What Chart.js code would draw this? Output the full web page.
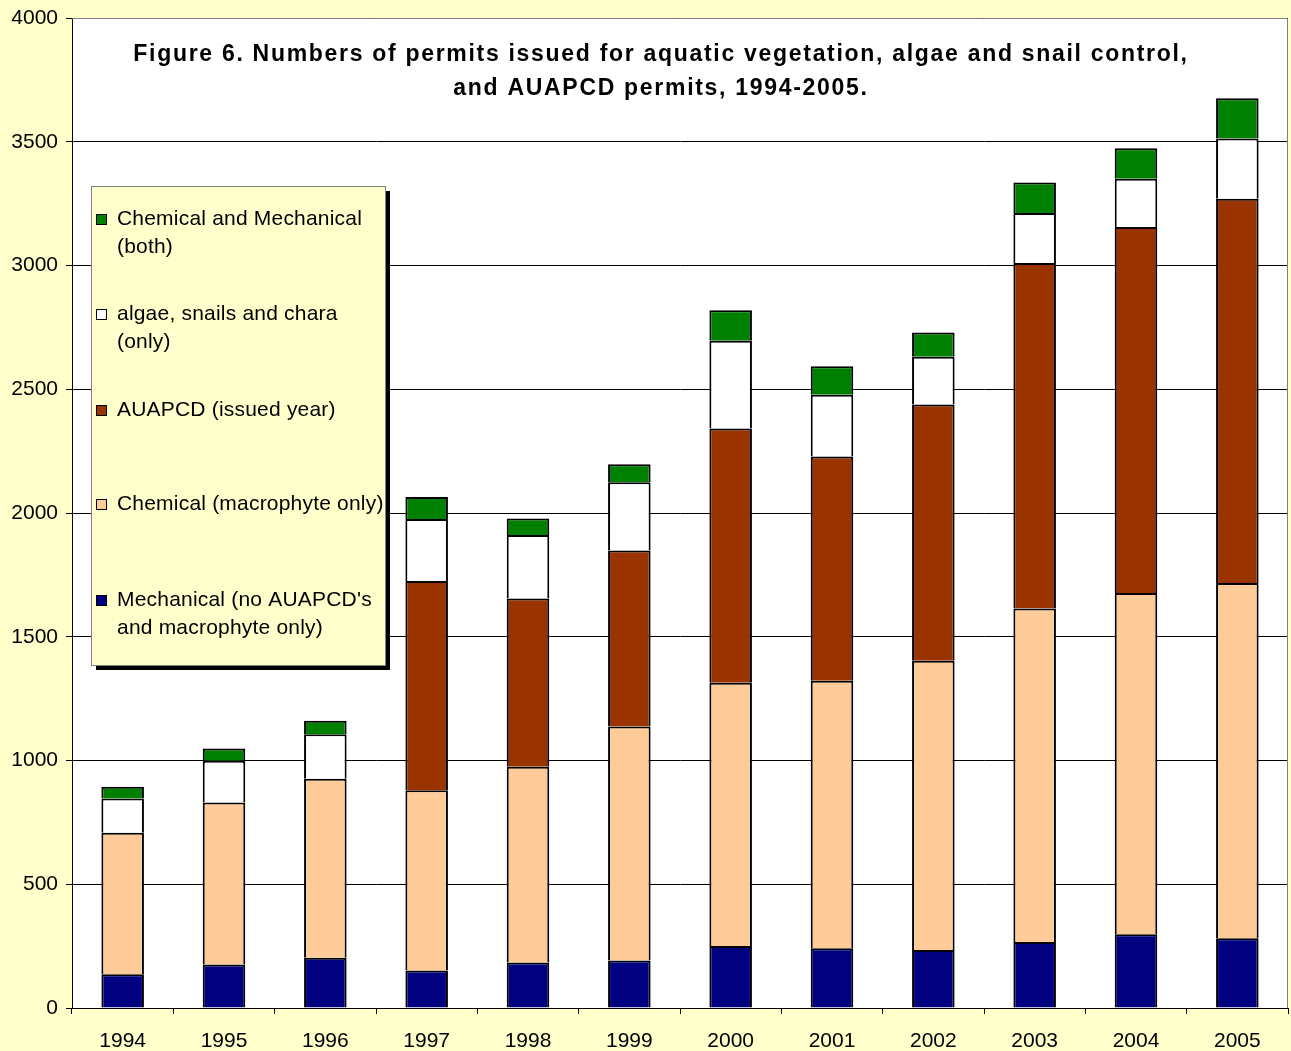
<!DOCTYPE html>
<html>
<head>
<meta charset="utf-8">
<script src="https://cdn.jsdelivr.net/npm/chart.js@4/dist/chart.umd.min.js"></script>
<style>
    html, body { margin: 0; padding: 0; background: #FFFFCC; }
    #wrap { width: 1291px; height: 1051px; }
</style>
</head>
<body>
<div id="wrap"><canvas id="permitChart"></canvas></div>
<script>
const years = ['1994', '1995', '1996', '1997', '1998', '1999', '2000', '2001', '2002', '2003', '2004', '2005'];
const mechanical = [136, 176, 203, 152, 184, 192, 251, 241, 234, 267, 298, 282];
const chemical = [572, 654, 723, 728, 791, 945, 1063, 1081, 1169, 1347, 1379, 1435];
const auapcd = [null, null, null, 845, 680, 711, 1027, 906, 1035, 1396, 1479, 1553];
const algae = [138, 169, 180, 251, 256, 276, 355, 250, 193, 202, 195, 243];
const both = [48, 49, 55, 89, 67, 73, 123, 115, 98, 123, 123, 163];

const yTicks = [0, 500, 1000, 1500, 2000, 2500, 3000, 3500, 4000];

const titleLines = [
    'Figure 6. Numbers of permits issued for aquatic vegetation, algae and snail control,',
    'and AUAPCD permits, 1994-2005.'
];

// legend rows, top to bottom (reverse of stacking order)
const legendRows = [
    { ds: 4, lines: ['Chemical and Mechanical', '(both)'], y: 219 },
    { ds: 3, lines: ['algae, snails and chara', '(only)'], y: 314 },
    { ds: 2, lines: ['AUAPCD (issued year)'], y: 410 },
    { ds: 1, lines: ['Chemical (macrophyte only)'], y: 504 },
    { ds: 0, lines: ["Mechanical (no AUAPCD's", 'and macrophyte only)'], y: 600 }
];

const FONT = '"Liberation Sans", Arial, sans-serif';

function makeSet(label, data, color) {
    return {
        label: label,
        data: data,
        backgroundColor: color,
        borderColor: '#000000',
        borderWidth: 2,
        borderSkipped: 'start',
        barPercentage: 0.42,
        categoryPercentage: 1.0
    };
}

// white plot area on the yellow page, plus the frame
const plotBackground = {
    id: 'plotBackground',
    beforeDraw(chart) {
        const { ctx, chartArea: a } = chart;
        ctx.save();
        ctx.fillStyle = '#FFFFCC';
        ctx.fillRect(0, 0, chart.width, chart.height);
        ctx.fillStyle = '#FFFFFF';
        ctx.fillRect(a.left, a.top, a.right - a.left, a.bottom - a.top);
        ctx.restore();
    },
    afterDraw(chart) {
        const { ctx, chartArea: a } = chart;
        ctx.save();
        ctx.strokeStyle = '#808080';
        ctx.lineWidth = 1;
        ctx.beginPath();
        ctx.moveTo(a.left, a.top + 0.5);
        ctx.lineTo(a.right - 0.5, a.top + 0.5);
        ctx.lineTo(a.right - 0.5, a.bottom);
        ctx.stroke();
        ctx.restore();
    }
};

const titleBlock = {
    id: 'titleBlock',
    afterDraw(chart) {
        const ctx = chart.ctx;
        ctx.save();
        ctx.fillStyle = '#000000';
        ctx.font = 'bold 23px ' + FONT;
        ctx.letterSpacing = '1.7px';
        ctx.textAlign = 'center';
        ctx.textBaseline = 'middle';
        ctx.fillText(titleLines[0], 661, 55);
        ctx.fillText(titleLines[1], 661, 89);
        ctx.restore();
    }
};

const boxLegend = {
    id: 'boxLegend',
    afterDraw(chart) {
        const ctx = chart.ctx;
        const x = 91, y = 186, w = 294, h = 479;
        ctx.save();
        // shadow
        ctx.fillStyle = '#000000';
        ctx.fillRect(x + 5, y + 5, w, h);
        ctx.fillStyle = '#FFFFCC';
        ctx.fillRect(x, y, w, h);
        ctx.strokeStyle = '#808080';
        ctx.lineWidth = 1;
        ctx.strokeRect(x + 0.5, y + 0.5, w, h);

        ctx.font = '21px ' + FONT;
        ctx.letterSpacing = '0.2px';
        ctx.textBaseline = 'middle';
        ctx.textAlign = 'left';
        legendRows.forEach(row => {
            const ds = chart.data.datasets[row.ds];
            ctx.fillStyle = ds.backgroundColor;
            ctx.fillRect(96, row.y - 5, 11, 11);
            ctx.strokeStyle = '#000000';
            ctx.strokeRect(96.5, row.y - 4.5, 10, 10);
            ctx.fillStyle = '#000000';
            row.lines.forEach((line, i) => ctx.fillText(line, 117, row.y + i * 28));
        });
        ctx.restore();
    }
};

const ctx = document.getElementById('permitChart').getContext('2d');
const myChart = new Chart(ctx, {
    type: 'bar',
    data: {
        labels: years,
        datasets: [
            makeSet("Mechanical (no AUAPCD's and macrophyte only)", mechanical, '#000080'),
            makeSet('Chemical (macrophyte only)', chemical, '#FFCC99'),
            makeSet('AUAPCD (issued year)', auapcd, '#993300'),
            makeSet('algae, snails and chara (only)', algae, '#FFFFFF'),
            makeSet('Chemical and Mechanical (both)', both, '#008000')
        ]
    },
    options: {
        responsive: true,
        maintainAspectRatio: false,
        animation: false,
        layout: { padding: { left: 0, top: 18, right: 3, bottom: 0 } },
        plugins: {
            legend: { display: false },
            title: { display: false },
            tooltip: { enabled: false }
        },
        scales: {
            x: {
                stacked: true,
                grid: {
                    offset: true,
                    drawOnChartArea: false,
                    drawTicks: true,
                    tickLength: 6,
                    tickColor: '#000000'
                },
                border: { color: '#000000', width: 1 },
                ticks: {
                    color: '#000000',
                    padding: 15,
                    maxRotation: 0,
                    font: { family: FONT, size: 21 }
                },
                afterFit(scale) {
                    scale.height = 43;
                    scale.paddingLeft = 0;
                    scale.paddingRight = 0;
                }
            },
            y: {
                stacked: true,
                min: 0,
                max: 4000,
                afterBuildTicks(scale) {
                    scale.ticks = yTicks.map(v => ({ value: v }));
                },
                grid: {
                    color: '#000000',
                    lineWidth: 1,
                    drawTicks: true,
                    tickLength: 6,
                    tickColor: '#000000'
                },
                border: { color: '#000000', width: 1 },
                ticks: {
                    color: '#000000',
                    padding: 8,
                    font: { family: FONT, size: 21 },
                    callback: v => String(v)
                },
                afterFit(scale) {
                    scale.width = 72;
                    scale.paddingTop = 0;
                    scale.paddingBottom = 0;
                }
            }
        }
    },
    plugins: [plotBackground, titleBlock, boxLegend]
});
</script>
</body>
</html>
